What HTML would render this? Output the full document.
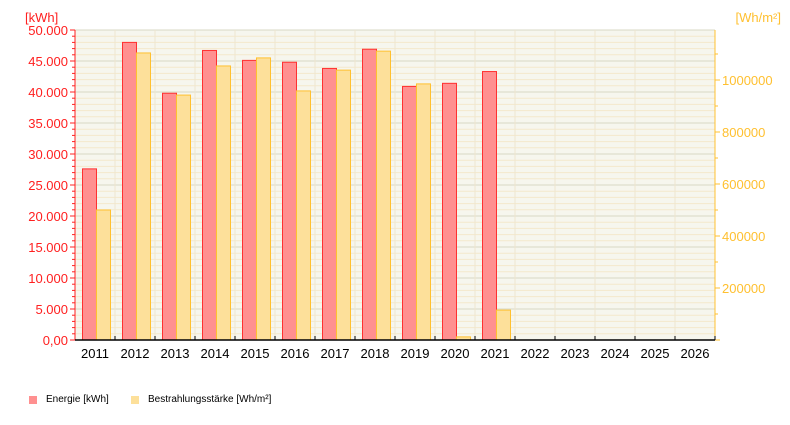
<!DOCTYPE html>
<html><head><meta charset="utf-8"><style>
body{margin:0;background:#fff;}
svg text{font-family:"Liberation Sans",sans-serif;}
</style></head><body>
<svg id="chart" width="790" height="420" viewBox="0 0 790 420" xmlns="http://www.w3.org/2000/svg">
<rect x="75" y="30" width="640" height="310" fill="#f6f6ee"/>
<g id="grid"></g>
<g id="bars"></g>
<g id="axes"></g>
<text x="25" y="22" font-size="13" fill="#ff2020">[kWh]</text>
<text x="781" y="22" font-size="13" fill="#ffc030" text-anchor="end">[Wh/m²]</text>
<g>
<rect x="29" y="396" width="8" height="8" fill="#ff9090"/>
<text x="46" y="402" font-size="10" fill="#000">Energie [kWh]</text>
<rect x="131" y="396" width="8" height="8" fill="#fde09a"/>
<text x="148" y="402" font-size="10" fill="#000">Bestrahlungsstärke [Wh/m²]</text>
</g>
</svg>
<script>
const years = ["2011","2012","2013","2014","2015","2016","2017","2018","2019","2020","2021","2022","2023","2024","2025","2026"];
const energy = [27600,48000,39800,46700,45100,44800,43800,46900,40900,41400,43300];
const irradiance = [500000,1104000,942000,1054000,1085000,958000,1038000,1111000,985000,12000,115000];
const leftTicks = ["0,00","5.000","10.000","15.000","20.000","25.000","30.000","35.000","40.000","45.000","50.000"];
const rightTicks = ["200000","400000","600000","800000","1000000"];

const NS="http://www.w3.org/2000/svg";
const X0=75,X1=715,Y0=340,Y1=30,slot=40;
const yL=v=>Y0-(v/50000)*(Y0-Y1);
const yR=v=>Y0-(v/200000)*52;
const xs=i=>X0+i*slot;
function mk(tag,attrs,parent){const e=document.createElementNS(NS,tag);for(const k in attrs)e.setAttribute(k,attrs[k]);parent.appendChild(e);return e;}
const grid=document.getElementById('grid'),bars=document.getElementById('bars'),axes=document.getElementById('axes');
// horizontal grid
for(let v=1000;v<=50000;v+=1000){
  const y=yL(v);
  const l=mk('line',{x1:X0,x2:X1,y1:y,y2:y,stroke:v%5000===0?'#d8d8c4':'#f3e8cc','stroke-width':1},grid);
  
  
}
for(let i=1;i<years.length;i++){
  const l=mk('line',{x1:xs(i),x2:xs(i),y1:Y1,y2:Y0,stroke:'#efe6d0','stroke-width':1},grid);
  
  
}
// bars
energy.forEach((v,i)=>{
  const y=yL(v);
  const r=mk('rect',{x:xs(i)+7.5,y:y,width:14,height:Y0-y,fill:'#ff9090',stroke:'#ff3030','stroke-width':1},bars);
  
  
});
irradiance.forEach((v,i)=>{
  const y=yR(v);
  const r=mk('rect',{x:xs(i)+21.5,y:y,width:14,height:Y0-y,fill:'#fde09a',stroke:'#ffc030','stroke-width':1},bars);
  
  
});
// left axis
mk('line',{x1:X0,x2:X0,y1:Y1,y2:Y0,stroke:'#ff2020','stroke-width':1},axes);
for(let v=0;v<=50000;v+=1000){
  const y=yL(v);const major=v%5000===0;
  mk('line',{x1:X0-(major?5:3),x2:X0,y1:y,y2:y,stroke:'#ff2020'},axes);
}
leftTicks.forEach((t,i)=>{
  const tx=mk('text',{x:X0-7,y:yL(i*5000)+5,'font-size':13,fill:'#ff2020','text-anchor':'end'},axes);
  tx.textContent=t;
  
  
});
// right axis
mk('line',{x1:X1,x2:X1,y1:Y1,y2:Y0,stroke:'#ffc030','stroke-width':1},axes);
for(let v=0;v<=1100000;v+=100000){
  const y=yR(v);const major=v%200000===0;
  mk('line',{x1:X1,x2:X1+(major?5:3),y1:y,y2:y,stroke:'#ffc030'},axes);
}
rightTicks.forEach((t,i)=>{
  const tx=mk('text',{x:X1+7,y:yR((i+1)*200000)+5,'font-size':13,fill:'#ffc030'},axes);
  tx.textContent=t;
  
  
});
// x axis
mk('line',{x1:X0,x2:X1,y1:Y0,y2:Y0,stroke:'#000','stroke-width':1.5},axes);
years.forEach((yr,i)=>{
  mk('line',{x1:xs(i+1),x2:xs(i+1),y1:Y0-4,y2:Y0,stroke:'#000'},axes);
  const tx=mk('text',{x:xs(i)+slot/2,y:Y0+18,'font-size':13,fill:'#000','text-anchor':'middle'},axes);
  tx.textContent=yr;
  
  
});
</script>
</body></html>
